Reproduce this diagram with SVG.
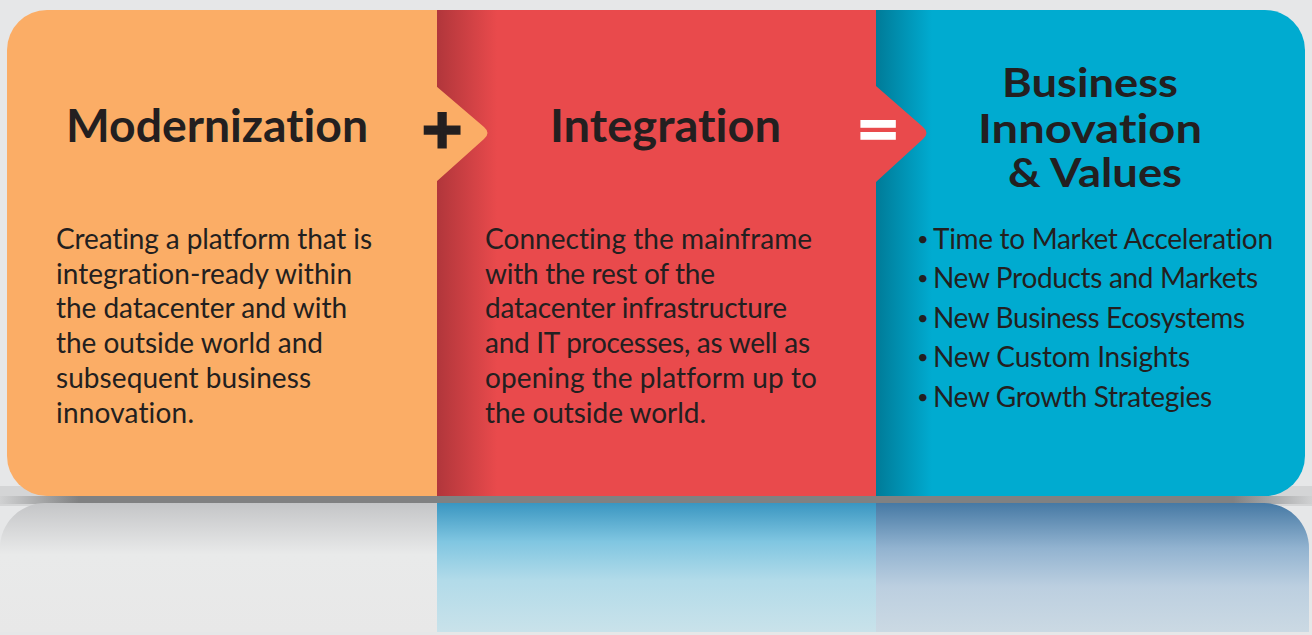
<svg xmlns="http://www.w3.org/2000/svg" width="1312" height="635" viewBox="0 0 1312 635">
  <style>
    text { font-variant-ligatures: none; font-feature-settings: "liga" 0, "clig" 0, "dlig" 0; }
    .body { font-family: Lato, "Open Sans", sans-serif; font-size: 28px; fill: #231f20; }
    .head { font-family: Lato, "Open Sans", sans-serif; font-weight: 700; fill: #231f20; }
    .op { font-family: "DejaVu Sans", sans-serif; font-weight: 700; font-size: 54px; text-anchor: middle; }
  </style>
  <defs>
    <linearGradient id="redEdge" x1="0" y1="0" x2="1" y2="0">
      <stop offset="0" stop-color="#b1363b"/>
      <stop offset="1" stop-color="#e94a4c"/>
    </linearGradient>
    <linearGradient id="blueEdge" x1="0" y1="0" x2="1" y2="0">
      <stop offset="0" stop-color="#007b98"/>
      <stop offset="1" stop-color="#00abd0"/>
    </linearGradient>
    <linearGradient id="shadowH" x1="0" y1="0" x2="1" y2="0">
      <stop offset="0" stop-color="#d0d1d2"/>
      <stop offset="0.06" stop-color="#808182"/>
      <stop offset="0.94" stop-color="#808182"/>
      <stop offset="1" stop-color="#d0d1d2"/>
    </linearGradient>
    <linearGradient id="reflL" x1="0" y1="0" x2="0" y2="1">
      <stop offset="0" stop-color="#c4c5c7"/>
      <stop offset="0.4" stop-color="#e9eaea"/>
      <stop offset="1" stop-color="#e8e8e8"/>
    </linearGradient>
    <linearGradient id="reflM" x1="0" y1="0" x2="0" y2="1">
      <stop offset="0" stop-color="#3a96c1"/>
      <stop offset="0.3" stop-color="#80c6e1"/>
      <stop offset="0.6" stop-color="#b2dbe9"/>
      <stop offset="1" stop-color="#c9e2ea"/>
    </linearGradient>
    <linearGradient id="reflR" x1="0" y1="0" x2="0" y2="1">
      <stop offset="0" stop-color="#4679a4"/>
      <stop offset="0.35" stop-color="#92b3d0"/>
      <stop offset="0.65" stop-color="#bccfe0"/>
      <stop offset="1" stop-color="#cbd9e3"/>
    </linearGradient>
  </defs>

  <!-- background -->
  <rect x="0" y="0" width="1312" height="635" fill="#e6e7e8"/>
  <rect x="0" y="486" width="1312" height="20" fill="#d4d5d6"/>
  <rect x="0" y="496" width="1312" height="8" fill="url(#shadowH)"/>

  <!-- reflection -->
  <g id="reflection">
    <path d="M0,548 A45,45 0 0 1 45,503 H437 V632 H0 Z" fill="url(#reflL)"/>
    <rect x="437" y="503" width="439" height="129" fill="url(#reflM)"/>
    <path d="M876,503 H1264 A45,45 0 0 1 1309,548 V632 H876 Z" fill="url(#reflR)"/>
  </g>

  <!-- Business node (blue) -->
  <g id="business-values">
    <path d="M876,10 H1265 A40,40 0 0 1 1305,50 V456 A40,40 0 0 1 1265,496 H876 Z" fill="#00abd0"/>
    <rect x="876" y="10" width="56" height="486" fill="url(#blueEdge)"/>
    <text class="head" font-size="40" text-anchor="middle" x="1090" y="97" textLength="176" lengthAdjust="spacingAndGlyphs">Business</text>
    <text class="head" font-size="40" text-anchor="middle" x="1090" y="143" textLength="224" lengthAdjust="spacingAndGlyphs">Innovation</text>
    <text class="head" font-size="40" text-anchor="middle" x="1095" y="187" textLength="174" lengthAdjust="spacingAndGlyphs">&amp; Values</text>
    <text class="body" x="917" y="249"><tspan font-size="20" y="246">•</tspan><tspan x="933" y="249" textLength="340">Time to Market Acceleration</tspan></text>
    <text class="body" x="917" y="288"><tspan font-size="20" y="285">•</tspan><tspan x="933" y="288" textLength="325">New Products and Markets</tspan></text>
    <text class="body" x="917" y="328"><tspan font-size="20" y="325">•</tspan><tspan x="933" y="328" textLength="312">New Business Ecosystems</tspan></text>
    <text class="body" x="917" y="367"><tspan font-size="20" y="364">•</tspan><tspan x="933" y="367" textLength="257">New Custom Insights</tspan></text>
    <text class="body" x="917" y="407"><tspan font-size="20" y="404">•</tspan><tspan x="933" y="407" textLength="279">New Growth Strategies</tspan></text>
  </g>

  <!-- Integration node (red) -->
  <g id="integration">
    <rect x="437" y="10" width="439" height="486" fill="#e94a4c"/>
    <rect x="437" y="10" width="60" height="486" fill="url(#redEdge)"/>
    <path d="M876,86 L923,127 Q930,133 923,139 L876,182 Z" fill="#e94a4c"/>
    <text class="head" font-size="46" x="550" y="142" textLength="231" lengthAdjust="spacingAndGlyphs">Integration</text>
    <text class="body" x="485" y="249" textLength="327">Connecting the mainframe</text>
    <text class="body" x="485" y="284" textLength="230">with the rest of the</text>
    <text class="body" x="485" y="318" textLength="302">datacenter infrastructure</text>
    <text class="body" x="485" y="353" textLength="325">and IT processes, as well as</text>
    <text class="body" x="485" y="388" textLength="332">opening the platform up to</text>
    <text class="body" x="485" y="423" textLength="221">the outside world.</text>
  </g>

  <!-- Modernization node (orange) -->
  <g id="modernization">
    <path d="M7,50 A40,40 0 0 1 47,10 H437 V496 H47 A40,40 0 0 1 7,456 Z" fill="#fbad66"/>
    <path d="M436,86 L484,127 Q491,133 484,139 L436,182 Z" fill="#fbad66"/>
    <text class="head" font-size="46" x="66" y="142" textLength="302" lengthAdjust="spacingAndGlyphs">Modernization</text>
    <text class="body" x="56" y="249" textLength="316">Creating a platform that is</text>
    <text class="body" x="56" y="284" textLength="296">integration-ready within</text>
    <text class="body" x="56" y="318" textLength="291">the datacenter and with</text>
    <text class="body" x="56" y="353" textLength="267">the outside world and</text>
    <text class="body" x="56" y="388" textLength="255">subsequent business</text>
    <text class="body" x="56" y="423" textLength="138">innovation.</text>
  </g>

  <!-- operators -->
  <g id="connectors">
    <text id="plus" class="op" x="442" y="147" fill="#231f20" stroke="#231f20" stroke-width="3">+</text>
    <text id="equals" class="op" x="878" y="147" fill="#ffffff" stroke="#ffffff" stroke-width="1.5">=</text>
  </g>
</svg>
